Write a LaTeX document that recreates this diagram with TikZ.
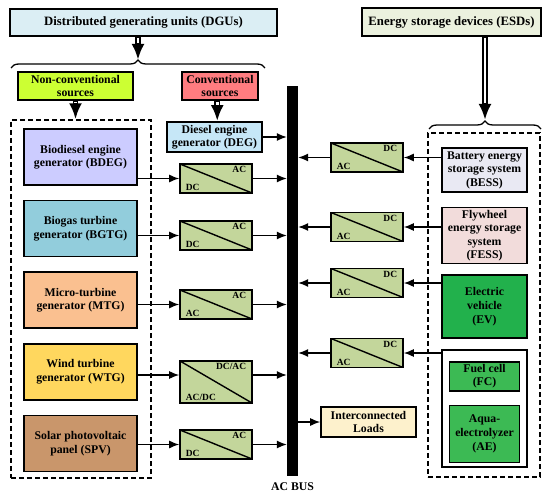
\documentclass[tikz,border=0pt]{standalone}
\usepackage{fontspec}
\setmainfont{Liberation Serif}
\usetikzlibrary{
  arrows.meta,
  positioning,
  calc,
  decorations.pathreplacing
}
\definecolor{dgublue}{HTML}{DBEEF4}
\definecolor{esdgreen}{HTML}{EBF1DE}
\definecolor{nonconvlime}{HTML}{CCFF33}
\definecolor{convred}{HTML}{FF7C80}
\definecolor{degblue}{HTML}{C6E7F7}
\definecolor{bdegviolet}{HTML}{CCCCFF}
\definecolor{bgtgteal}{HTML}{92CDDC}
\definecolor{mtgpeach}{HTML}{FAC090}
\definecolor{wtgyellow}{HTML}{FFD75E}
\definecolor{spvbrown}{HTML}{C9966B}
\definecolor{besslav}{HTML}{E9E9F3}
\definecolor{fesspink}{HTML}{F2DCDB}
\definecolor{evgreen}{HTML}{22B14C}
\definecolor{fcgreen}{HTML}{3CBA54}
\definecolor{loadcream}{HTML}{FDF1CC}
\definecolor{convolive}{HTML}{C3D69B}

\begin{document}
\begin{tikzpicture}[
    x=1bp, y=-1bp,
    node distance=14bp,
    every node/.style={font=\fontsize{11.8}{13.6}\selectfont\bfseries, align=center},
    unit/.style={
      rectangle, draw, line width=1.6bp, inner sep=1bp
    },
    heading/.style={unit, font=\fontsize{12.8}{14}\selectfont\bfseries},
    source/.style={unit, minimum width=113bp, minimum height=56bp},
    storage/.style={unit, minimum width=85bp},
    conv/.style={
      rectangle, draw, line width=1.6bp, fill=convolive, inner sep=0pt,
      minimum width=72bp, minimum height=29bp,
      path picture={\draw[line width=1.4bp]
        (path picture bounding box.north west) --
        (path picture bounding box.south east);}
    },
    convlbl/.style={font=\fontsize{9.5}{9.5}\selectfont\bfseries,
      inner xsep=6.5bp, inner ysep=3bp},
    dashbox/.style={draw, line width=1.4bp, dash pattern=on 5bp off 3bp, inner sep=0pt},
    arrow/.style={-{Latex[length=10bp,width=8bp]}, line width=1.3bp},
    dblarrow/.style={-{Latex[length=16bp,width=13bp]}, line width=5.6bp,
      postaction={draw=white, -, line width=2.8bp, shorten >=16.5bp, shorten <=1bp}},
    brace/.style={decorate, decoration={brace, amplitude=8bp}, line width=1.3bp},
  ]
  \useasboundingbox (0,0) rectangle (550,499);

  % --- Top level ---
  \node[heading, fill=dgublue, minimum width=267bp, minimum height=27bp] (dgu) at (143.5,22.5)
    {Distributed generating units (DGUs)};
  \node[heading, fill=esdgreen, minimum width=179bp, minimum height=28bp] (esd) at (451.5,22)
    {Energy storage devices (ESDs)};
  \node[unit, fill=nonconvlime, minimum width=115bp, minimum height=28bp] (nonconv) at (75.5,86)
    {Non-conventional\\sources};
  \node[unit, fill=convred, minimum width=76bp, minimum height=28bp] (conv) at (220,86)
    {Conventional\\sources};
  \node[unit, fill=degblue, minimum width=95bp, minimum height=30bp] (deg) at (214.5,137)
    {Diesel engine\\generator (DEG)};

  % --- Braces ---
  \coordinate (dgubraceL) at (11,68);
  \coordinate (dgubraceR) at (265,68);
  \coordinate (dgutip) at (138,60);
  \coordinate (esdbraceL) at (429,129);
  \coordinate (esdbraceR) at (541,129);
  \coordinate (esdtip) at (485,120);
  \draw[brace] (dgubraceL) -- (dgubraceR);
  \draw[brace] (esdbraceL) -- (esdbraceR);

  % --- Groups ---
  \node[dashbox, minimum width=140bp, minimum height=358bp] (dgen) at (81,299) {};
  \node[dashbox, minimum width=112bp, minimum height=344bp] (dstore) at (484,305) {};

  % --- Generating units ---
  \node[source, fill=bdegviolet] (bdeg) at (80.5,157) {Biodiesel engine\\generator (BDEG)};
  \node[source, fill=bgtgteal, below=of bdeg] (bgtg) {Biogas turbine\\generator (BGTG)};
  \node[source, fill=mtgpeach, below=of bgtg] (mtg) {Micro-turbine\\generator (MTG)};
  \node[source, fill=wtgyellow, below=of mtg] (wtg) {Wind turbine\\generator (WTG)};
  \node[source, fill=spvbrown, below=of wtg] (spv) {Solar photovoltaic\\panel (SPV)};

  % --- Storage devices ---
  \node[storage, fill=besslav, minimum height=44bp] (bess) at (484.5,170)
    {Battery energy\\storage system\\(BESS)};
  \node[storage, fill=fesspink, minimum height=56bp, below=14bp of bess] (fess)
    {Flywheel\\energy storage\\system\\(FESS)};
  \node[storage, fill=evgreen, minimum height=63bp, below=10bp of fess] (ev)
    {Electric\\vehicle\\(EV)};
  \node[storage, fill=white, minimum height=117bp, below=10bp of ev] (fcae) {};
  \node[unit, fill=fcgreen, minimum width=70bp, minimum height=29bp,
    below=12bp of fcae.north] (fc) {Fuel cell\\(FC)};
  \node[unit, fill=fcgreen, minimum width=70bp, minimum height=57bp,
    below=13bp of fc] (ae) {Aqua-\\electrolyzer\\(AE)};

  % --- AC bus and loads ---
  \node[fill=black, minimum width=11bp, minimum height=390bp, inner sep=0pt] (bus) at (292.5,281) {};
  \node[below=3bp of bus] (busname) {AC BUS};
  \node[unit, fill=loadcream, minimum width=95bp, minimum height=30bp] (loads) at (368.5,422)
    {Interconnected\\Loads};

  % --- Converters (left) ---
  \node[conv, label={[convlbl, anchor=north east]north east:AC},
    label={[convlbl, anchor=south west]south west:DC}] (cbdeg) at (216,178.5) {};
  \node[conv, label={[convlbl, anchor=north east]north east:AC},
    label={[convlbl, anchor=south west]south west:DC}] (cbgtg) at (216,235.5) {};
  \node[conv, label={[convlbl, anchor=north east]north east:AC},
    label={[convlbl, anchor=south west]south west:AC}] (cmtg) at (216,304.5) {};
  \node[conv, minimum height=42bp, label={[convlbl, anchor=north east]north east:DC/AC},
    label={[convlbl, anchor=south west]south west:AC/DC}] (cwtg) at (216,382) {};
  \node[conv, label={[convlbl, anchor=north east]north east:AC},
    label={[convlbl, anchor=south west]south west:DC}] (cspv) at (216,444.5) {};

  % --- Converters (right) ---
  \node[conv, label={[convlbl, anchor=north east]north east:DC},
    label={[convlbl, anchor=south west]south west:AC}] (cbess) at (367,157.5) {};
  \node[conv, label={[convlbl, anchor=north east]north east:DC},
    label={[convlbl, anchor=south west]south west:AC}] (cfess) at (367,227) {};
  \node[conv, label={[convlbl, anchor=north east]north east:DC},
    label={[convlbl, anchor=south west]south west:AC}] (cev) at (367,283) {};
  \node[conv, label={[convlbl, anchor=north east]north east:DC},
    label={[convlbl, anchor=south west]south west:AC}] (cfc) at (367,353) {};

  % --- Hierarchy arrows ---
  \coordinate (convdrop) at ($(conv.south)!0.5!(deg.north)$);
  \draw[dblarrow] (dgu.south -| dgutip) -- (dgutip);
  \draw[dblarrow] (esd.south -| esdtip) -- (esdtip);
  \draw[dblarrow] (nonconv.south) -- (nonconv.south |- dgen.north);
  \draw[dblarrow] (convdrop |- conv.south) -- (convdrop |- deg.north);

  % --- Power flow arrows ---
  \coordinate (wtgin) at ($(cwtg.west)+(0,-7)$);
  \draw[arrow] (deg) -- (deg -| bus.west);
  \draw[arrow] (bdeg.east |- cbdeg) -- (cbdeg);
  \draw[arrow] (cbdeg) -- (cbdeg -| bus.west);
  \draw[arrow] (bgtg.east |- cbgtg) -- (cbgtg);
  \draw[arrow] (cbgtg) -- (cbgtg -| bus.west);
  \draw[arrow] (mtg.east |- cmtg) -- (cmtg);
  \draw[arrow] (cmtg) -- (cmtg -| bus.west);
  \draw[arrow] (wtg.east |- wtgin) -- (wtgin);
  \draw[arrow] (cwtg.east |- wtgin) -- (wtgin -| bus.west);
  \draw[arrow] (spv.east |- cspv) -- (cspv);
  \draw[arrow] (cspv) -- (cspv -| bus.west);

  \draw[arrow] (bess.west |- cbess) -- (cbess);
  \draw[arrow] (cbess) -- (cbess -| bus.east);
  \draw[arrow] (fess.west |- cfess) -- (cfess);
  \draw[arrow] (cfess) -- (cfess -| bus.east);
  \draw[arrow] (ev.west |- cev) -- (cev);
  \draw[arrow] (cev) -- (cev -| bus.east);
  \draw[arrow] (fcae.west |- cfc) -- (cfc);
  \draw[arrow] (cfc) -- (cfc -| bus.east);

  \draw[arrow] (bus.east |- loads) -- (loads);
\end{tikzpicture}
\end{document}
